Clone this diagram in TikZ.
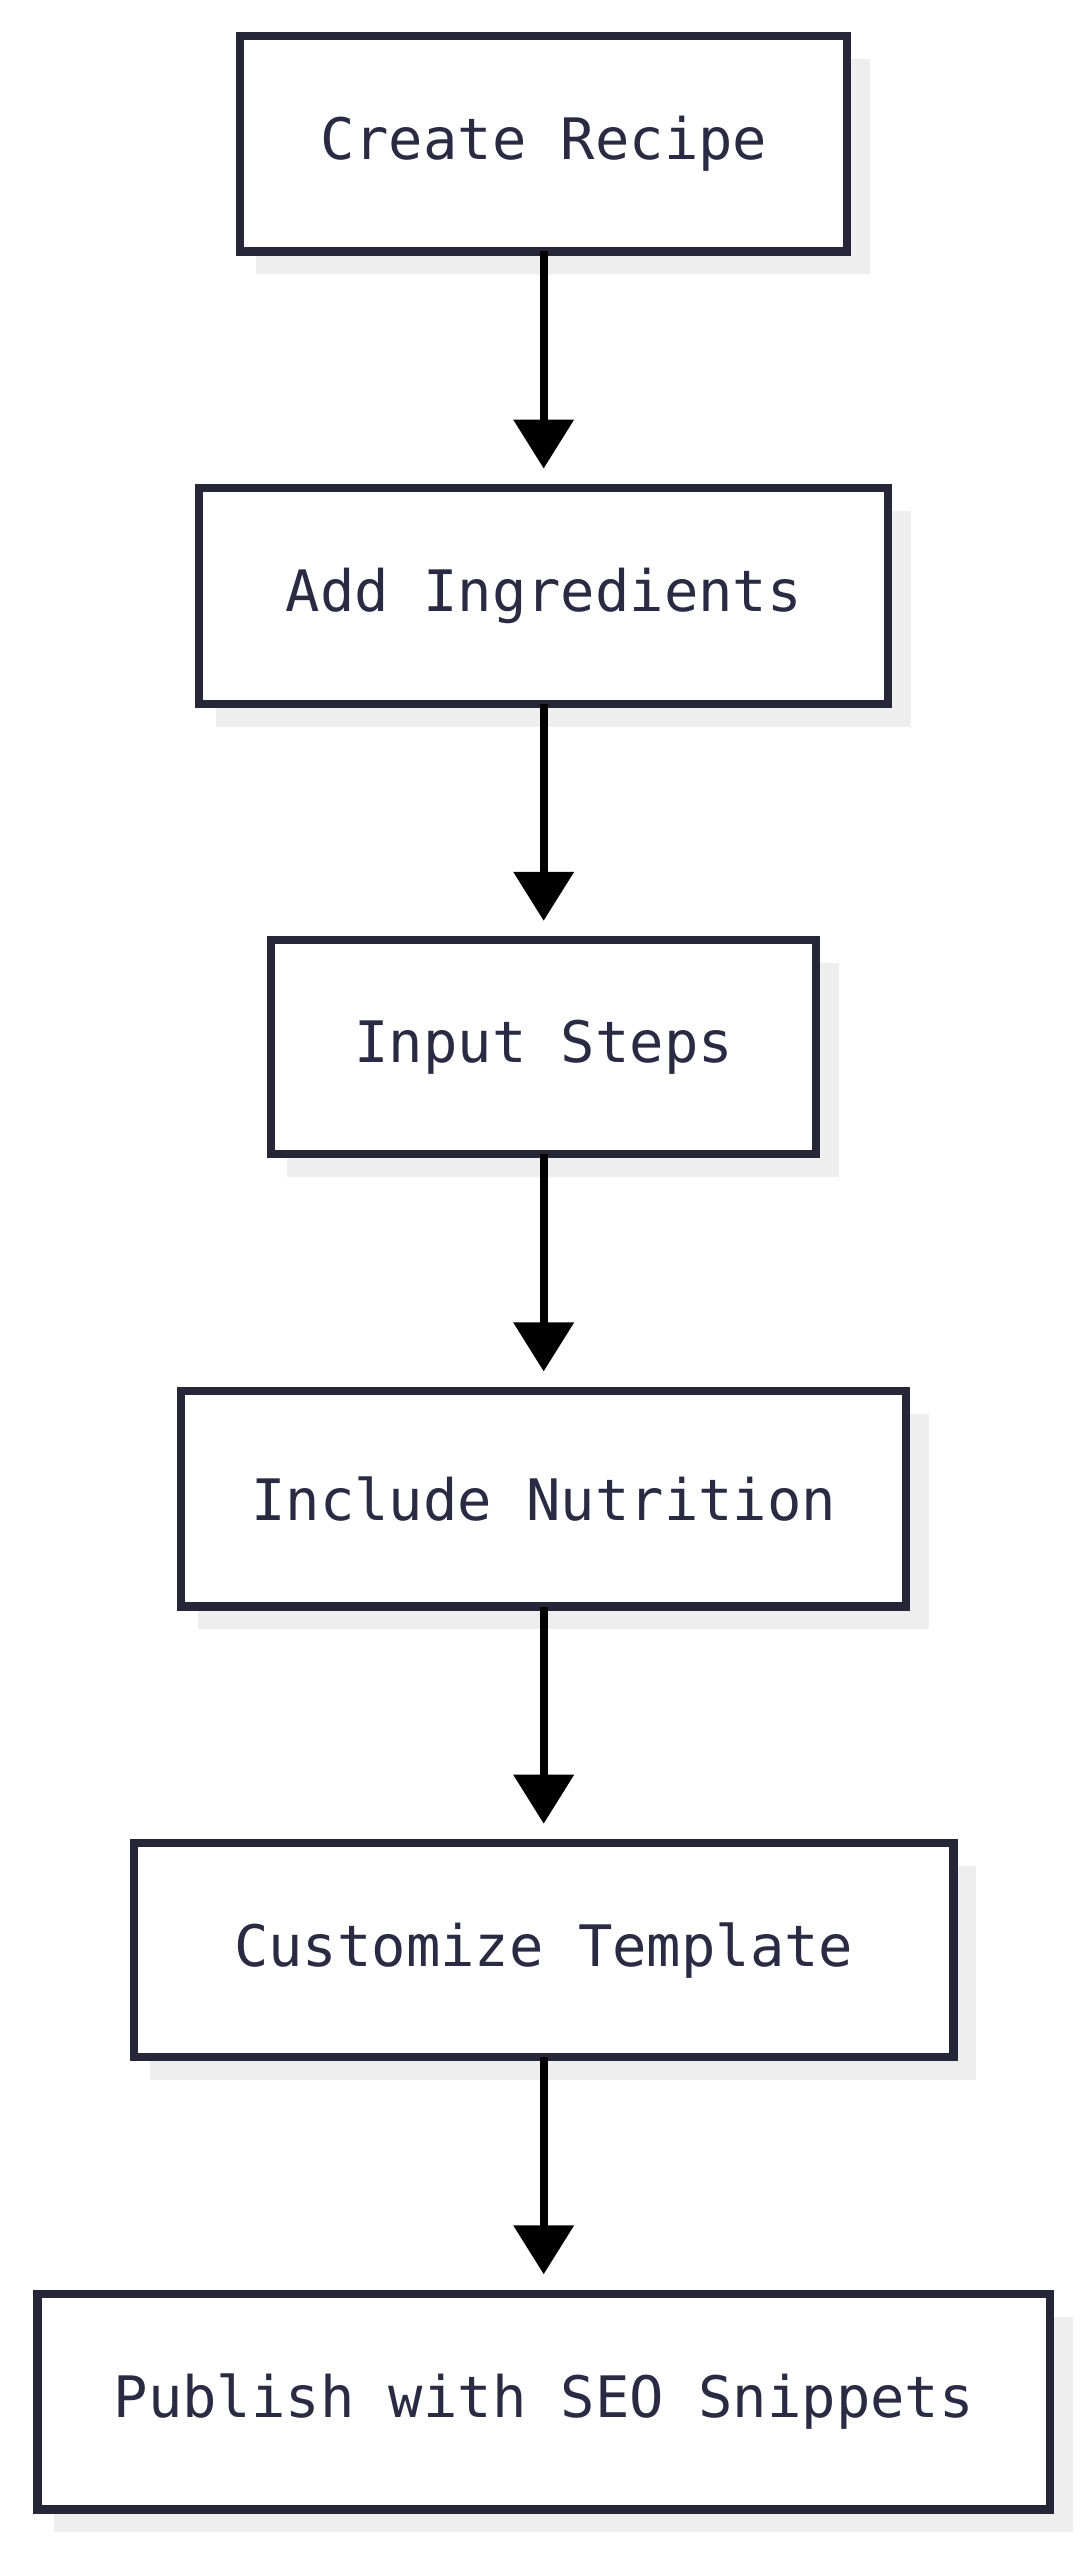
\documentclass[tikz,border=0pt]{standalone}
\usepackage{fontspec}
\setmainfont{DejaVu Sans Mono}
\usetikzlibrary{arrows.meta}
\definecolor{boxc}{HTML}{262638}
\definecolor{txtc}{HTML}{2A2A42}
\definecolor{shad}{HTML}{EEEEEE}
\begin{document}
\begin{tikzpicture}[x=1pt,y=-1pt,
  stepbox/.style={draw=boxc,line width=5pt,fill=white},
  lbl/.style={text=txtc,font=\fontsize{35}{42}\selectfont},
  conn/.style={line width=5pt,-{Triangle[width=36pt,length=30pt]}}]
\useasboundingbox[fill=white] (0,0) rectangle (668,1568);
\foreach \x/\y/\X/\Y/\n/\t in {147/22/519/154/a/Create Recipe,122/299/544/431/b/Add Ingredients,166/576/500/707/c/Input Steps,111/852/555/984/d/Include Nutrition,82/1129/584/1260/e/Customize Template,23/1405/643/1537/f/Publish with SEO Snippets}{
  \fill[shad] (\x+10,\y+14) rectangle (\X+14,\Y+14);
  \draw[stepbox] (\x,\y) rectangle (\X,\Y);
  \node[lbl] (\n) at ({(\x+\X)/2},{(\y+\Y)/2}) {\t};
  \coordinate (\n t) at ({(\x+\X)/2},\y);
  \coordinate (\n b) at ({(\x+\X)/2},\Y);
}
\foreach \p/\q in {a/b,b/c,c/d,d/e,e/f}{
  \draw[conn] (333,0 |- \p b) -- ([yshift=12pt]333,0 |- \q t);
}
\end{tikzpicture}
\end{document}
